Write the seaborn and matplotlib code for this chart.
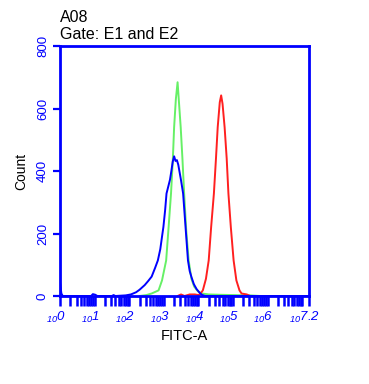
import numpy as np
import pandas as pd
import matplotlib
matplotlib.use('Agg')
import matplotlib.pyplot as plt
import matplotlib.transforms as mtransforms
import seaborn as sns

# ==========================================
# data (x in log10 decades, y = count)
# ==========================================
blue_x = [0.00, 0.04, 0.08, 0.90, 0.95, 1.02, 1.08, 1.50, 1.55, 1.60, 1.90, 2.05, 2.20, 2.30,
          2.45, 2.55, 2.65, 2.75, 2.83, 2.90, 2.95, 2.99, 3.04, 3.08, 3.13, 3.18, 3.22, 3.26,
          3.30, 3.34, 3.38, 3.42, 3.46, 3.50, 3.56, 3.63, 3.70, 3.75, 3.80, 3.87, 3.95, 4.04,
          4.10, 4.20, 7.20]
blue_y = [45, 8, 0, 0, 6, 4, 0, 0, 3, 0, 2, 5, 12, 20,
          35, 48, 62, 90, 114, 150, 190, 221, 275, 328, 350, 372, 400, 430,
          447, 432, 435, 420, 395, 370, 328, 221, 114, 80, 61, 38, 22, 10,
          4, 0, 0]

green_x = [2.30, 2.50, 2.65, 2.85, 2.95, 3.07, 3.14, 3.21, 3.26, 3.30, 3.35, 3.40, 3.44,
           3.49, 3.54, 3.59, 3.65, 3.72, 3.80, 3.88, 3.99, 4.10, 4.30, 4.60, 5.00, 5.50, 5.80]
green_y = [0, 3, 8, 18, 50, 114, 220, 328, 430, 540, 630, 684, 620,
           540, 440, 328, 210, 114, 55, 30, 15, 8, 5, 4, 3, 2, 0]

red_x = [3.40, 3.50, 3.60, 3.75, 3.90, 4.00, 4.05, 4.13, 4.22, 4.30, 4.37, 4.45, 4.51, 4.56,
         4.62, 4.66, 4.70, 4.76, 4.82, 4.87, 4.94, 5.02, 5.10, 5.19, 5.25, 5.40, 5.50]
red_y = [0, 5, 0, 5, 5, 3, 6, 18, 55, 114, 220, 328, 440, 540,
         620, 642, 615, 540, 440, 328, 220, 114, 50, 18, 8, 5, 0]

decades = [0, 1, 2, 3, 4, 5, 6, 7.2]
exp_labels = ['0', '1', '2', '3', '4', '5', '6', '7.2']
count_ticks = [0, 200, 400, 600, 800]

# ==========================================
# style
# ==========================================
sns.set_theme(style='white')
plt.rcParams['font.family'] = ['Liberation Sans', 'DejaVu Sans']
plt.rcParams['mathtext.fontset'] = 'custom'
plt.rcParams['mathtext.rm'] = 'Liberation Sans:italic'
plt.rcParams['mathtext.it'] = 'Liberation Sans:italic'

BLUE = '#0000ff'
GREEN = '#66f066'
RED = '#ff2020'

df = pd.concat([
    pd.DataFrame({'x': blue_x, 'y': blue_y, 's': 'blue'}),
    pd.DataFrame({'x': green_x, 'y': green_y, 's': 'green'}),
    pd.DataFrame({'x': red_x, 'y': red_y, 's': 'red'}),
])

fig = plt.figure(figsize=(3.69, 3.84), dpi=100)
ax = fig.add_axes([60 / 369, 1 - 296 / 384, 249 / 369, 250 / 384])

sns.lineplot(data=df, x='x', y='y', hue='s', sort=False, estimator=None,
             palette={'blue': BLUE, 'green': GREEN, 'red': RED},
             hue_order=['green', 'red', 'blue'], linewidth=1.4, legend=False, ax=ax)

ax.set_xlim(0, 7.2)
ax.set_ylim(0, 800)

for sp in ax.spines.values():
    sp.set_color(BLUE)
    sp.set_linewidth(2)

# x ticks: majors + log minors, all pointing down
minor = [d + np.log10(k) for d in range(8) for k in range(1, 10)
         if d + np.log10(k) < 7.2 and not (k == 1 and d < 7)]
ax.set_xticks(decades)
ax.set_xticks(minor, minor=True)
ax.set_xticklabels([f'$_{{10}}${e}' for e in exp_labels], color=BLUE, fontsize=9.5,
                   style='italic')
ax.tick_params(axis='x', which='both', direction='out', length=7, width=1.8,
               color=BLUE, bottom=True, pad=3)
offset = mtransforms.ScaledTranslation(-4 / 100, 0, fig.dpi_scale_trans)
for lab in ax.get_xticklabels():
    lab.set_transform(lab.get_transform() + offset)

ax.set_yticks(count_ticks)
ax.set_yticklabels([str(v) for v in count_ticks], rotation=90, va='center',
                   color=BLUE, fontsize=9.5)
ax.tick_params(axis='y', direction='out', length=5, width=1.6, color=BLUE, left=True, pad=3)

ax.set_xlabel('FITC-A', fontsize=10.5, color='black', labelpad=3)
ax.set_ylabel('Count', fontsize=10, color='black', labelpad=6)

ax.text(0, 1.015, 'A08\nGate: E1 and E2', transform=ax.transAxes, ha='left', va='bottom',
        fontsize=11.5, linespacing=1.15, color='black')

fig.savefig('out.png', dpi=100)
